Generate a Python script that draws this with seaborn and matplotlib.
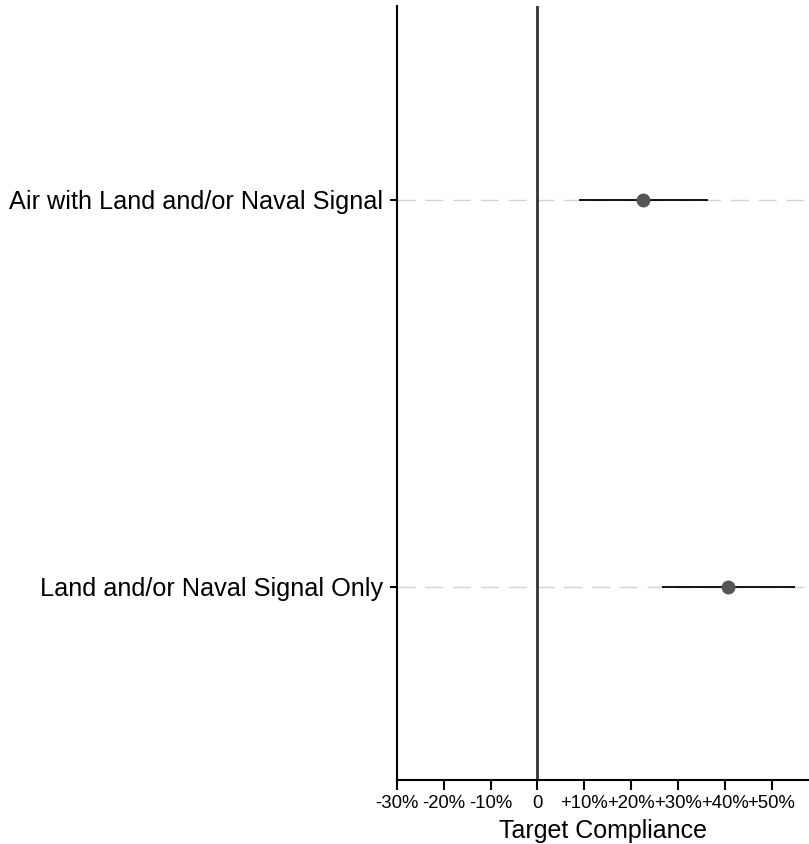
import matplotlib
matplotlib.use("Agg")
import matplotlib.pyplot as plt
import seaborn as sns
import pandas as pd
import numpy as np

categories = ["Air with Land and/or Naval Signal", "Land and/or Naval Signal Only"]
estimates = [0.226, 0.408]
ci_low = [0.088, 0.265]
ci_high = [0.365, 0.551]
xticks = [-0.3, -0.2, -0.1, 0.0, 0.1, 0.2, 0.3, 0.4, 0.5]
xticklabels = ["-30%", "-20%", "-10%", "0", "+10%", "+20%", "+30%", "+40%", "+50%"]

sns.set_theme(style="white")
plt.rcParams["font.family"] = ["Liberation Sans", "DejaVu Sans"]
plt.rcParams["text.color"] = "black"
plt.rcParams["xtick.color"] = "black"
plt.rcParams["ytick.color"] = "black"
plt.rcParams["axes.labelcolor"] = "black"

df = pd.DataFrame({"cat": categories, "est": estimates, "lo": ci_low, "hi": ci_high})
df["ypos"] = np.arange(len(df))

fig = plt.figure(figsize=(8.09, 8.44), dpi=100)
ax = fig.add_axes([397/809, 1 - 780/844, 1 - 397/809, (780 - 6)/844])

for y in df["ypos"]:
    ax.axhline(y, color="#d3d3d3", lw=1, ls=(0, (13, 7)), zorder=0)
ax.axvline(0, color="#333333", lw=2, zorder=1)
ax.hlines(df["ypos"], df["lo"], df["hi"], color="black", lw=1.3, zorder=2)
sns.scatterplot(data=df, x="est", y="ypos", ax=ax, color="#555555", s=100,
                edgecolor="#555555", linewidth=0, zorder=3, legend=False)

ax.set_xlim(-0.30, 0.58)
ax.set_ylim(1.5, -0.5)
ax.set_yticks(df["ypos"])
ax.set_yticklabels(categories, fontsize=18.2)
ax.set_xticks(xticks)
ax.set_xticklabels(xticklabels, fontsize=13.3)
ax.set_xlabel("Target Compliance", fontsize=18, labelpad=5)
ax.set_ylabel("")
for s in ["top", "right"]:
    ax.spines[s].set_visible(False)
for s in ["left", "bottom"]:
    ax.spines[s].set_color("black")
    ax.spines[s].set_linewidth(1.5)
ax.tick_params(axis="x", which="both", bottom=True, length=7, width=1.5, color="black", pad=3.5)
ax.tick_params(axis="y", which="both", left=True, length=5, width=1.5, color="black", pad=5)

fig.savefig("out.png", dpi=100)
